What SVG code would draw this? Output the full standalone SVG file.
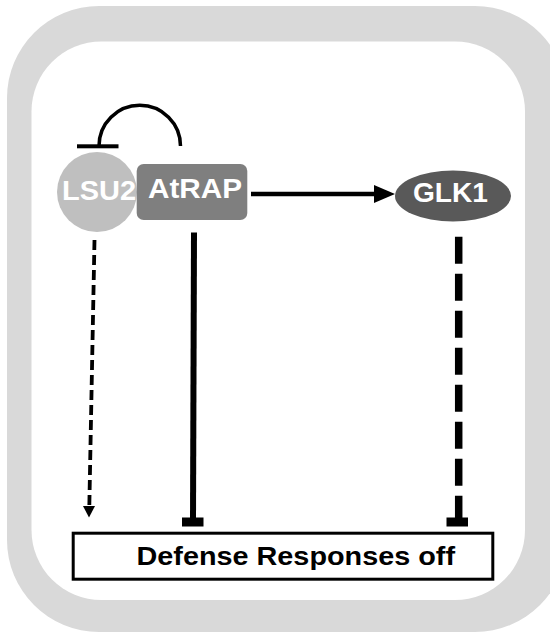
<svg xmlns="http://www.w3.org/2000/svg" width="550" height="634" viewBox="0 0 550 634">
<style>
.lbl{font-family:"Liberation Sans",Arial,Helvetica,sans-serif;font-weight:bold;fill:#ffffff;text-anchor:middle}
.dtxt{font-family:"Liberation Sans",Arial,Helvetica,sans-serif;font-weight:bold;fill:#000000}
.ln{fill:none;stroke:#000000}
.bar{fill:#000000}
</style>
<defs>
<marker id="arr" markerWidth="10" markerHeight="8" refX="10" refY="4" orient="auto" markerUnits="userSpaceOnUse">
<path d="M0,0 L10,4 L0,8 Z" fill="#000"/>
</marker>
</defs>
<g id="frame">
<rect x="7" y="6" width="560" height="626" rx="92" ry="92" fill="#d9d9d9"/>
<rect x="31.5" y="41.5" width="493.5" height="558.5" rx="70" ry="70" fill="#ffffff"/>
</g>
<g id="connectors">
<path class="ln" d="M99,146 A40.7,40.7 0 0 1 180.5,146" stroke-width="3.5"/>
<rect class="bar" x="77" y="144.3" width="41.5" height="4"/>
<line class="ln" x1="251" y1="194" x2="376" y2="194" stroke-width="4.5"/>
<path d="M374,185 L395,194 L374,203 Z" fill="#000"/>
<line class="ln" x1="94.5" y1="240" x2="89.3" y2="507" stroke-width="3.8" stroke-dasharray="10,5"/>
<path d="M83,506 L95,506 L89,517.5 Z" fill="#000"/>
<line class="ln" x1="194" y1="232.5" x2="193" y2="520" stroke-width="6"/>
<rect class="bar" x="182" y="517.5" width="21.5" height="9"/>
<line class="ln" x1="458.7" y1="236.7" x2="458.7" y2="519" stroke-width="7.5" stroke-dasharray="27,10"/>
<rect class="bar" x="446.5" y="517.5" width="21.5" height="9"/>
</g>
<g id="LSU2">
<circle cx="97" cy="192" r="40" fill="#bfbfbf"/>
<text class="lbl" x="99" y="200" font-size="28" textLength="74" lengthAdjust="spacingAndGlyphs">LSU2</text>
</g>
<g id="AtRAP">
<rect x="136.7" y="164" width="110.6" height="56" rx="7" ry="7" fill="#7f7f7f"/>
<text class="lbl" x="195" y="198" font-size="28" textLength="94" lengthAdjust="spacingAndGlyphs">AtRAP</text>
</g>
<g id="GLK1">
<ellipse cx="453" cy="196" rx="58" ry="25.5" fill="#595959"/>
<text class="lbl" x="450.5" y="201.5" font-size="28" textLength="75" lengthAdjust="spacingAndGlyphs">GLK1</text>
</g>
<g id="defense">
<rect x="73.2" y="533.2" width="419.6" height="46" fill="#ffffff" stroke="#000" stroke-width="3"/>
<text class="dtxt" x="136.5" y="565" font-size="25.6" textLength="318.5" lengthAdjust="spacingAndGlyphs">Defense Responses off</text>
</g>
</svg>
